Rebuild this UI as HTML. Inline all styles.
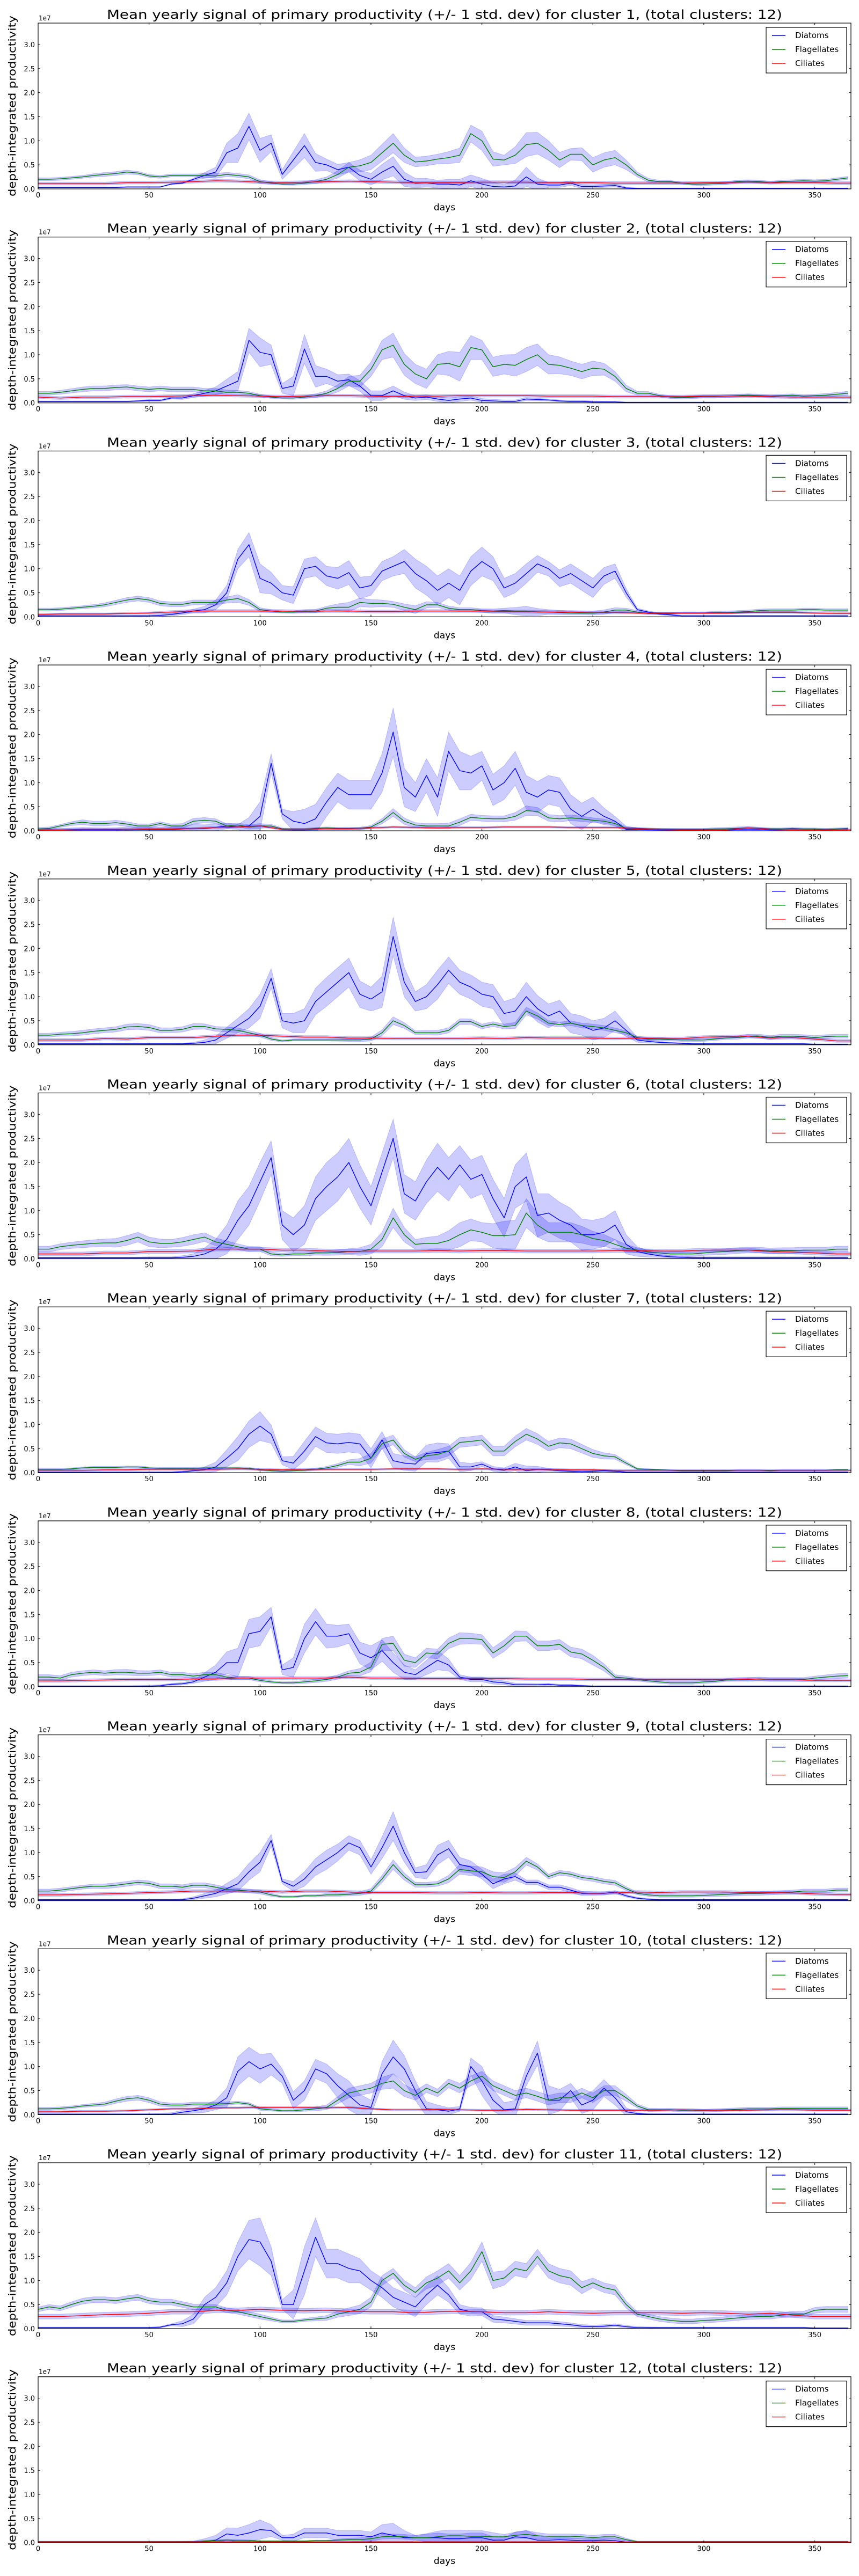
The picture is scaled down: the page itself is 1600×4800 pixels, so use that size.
<!DOCTYPE html>
<html><head><meta charset="utf-8"><title>Mean yearly signal of primary productivity</title>
<style>
html,body{margin:0;padding:0;background:#fff;}
svg{display:block;}
text{font-family:"DejaVu Sans","Liberation Sans",sans-serif;fill:#000;}
</style></head>
<body>
<svg id="fig" xmlns="http://www.w3.org/2000/svg" width="1600" height="4800" viewBox="0 0 1600 4800"></svg>
<script>
// Values in units of 1e7. Means sampled every 5 days (day 0..365), ciliate means and all std every 10 days (day 0..370).
const xTicks=[0,50,100,150,200,250,300,350];
const yTicks=[0,0.5,1.0,1.5,2.0,2.5,3.0];
const yTickLabels=["0.0","0.5","1.0","1.5","2.0","2.5","3.0"];
const seriesNames=["Diatoms","Flagellates","Ciliates"];

const diatoms1=[.03,.03,.03,.03,.03,.03,.03,.03,.04,.04, .04,.04,.1,.12,.2,.28,.35,.75,.85,1.3, .8,.95,.3,.6,.9,.55,.5,.4,.45,.28, .2,.35,.47,.2,.12,.13,.1,.1,.08,.17, .1,.05,.04,.06,.25,.1,.08,.08,.12,.05, .05,.06,.07,.02,.01,.01,.01,.01,.01,.01, .01,.01,.01,.01,.01,.01,.01,.01,.01,.01, .01,.01,.01,.01];
const flagellates1=[.2,.2,.21,.23,.25,.28,.3,.32,.35,.33, .27,.25,.28,.28,.28,.28,.27,.3,.28,.25, .15,.12,.1,.1,.12,.15,.2,.3,.45,.48, .55,.75,.95,.7,.56,.58,.62,.65,.7,1.15, 1.0,.62,.6,.7,.92,.95,.8,.6,.72,.72, .5,.6,.65,.5,.3,.18,.15,.15,.12,.1, .1,.11,.12,.15,.16,.15,.13,.15,.16,.17, .16,.17,.2,.23];
const ciliates1=[.11,.11,.11,.11,.13,.13,.14,.15,.17,.16,.14,.13,.14,.15,.16,.15,.14,.13,.13,.13,.14,.14,.14,.13,.13,.13,.12,.12,.12,.12,.13,.13,.14,.13,.13,.13,.12,.12];
const diatomsStd1=[.01,.01,.01,.01,.01,.01,.01,.02,.1,.3, .25,.1,.25,.12,.1,.12,.2,.1,.08,.12, .12,.05,.2,.05,.05,.03,.03,.01,.01,.01, .01,.01,.01,.01,.01,.01,.01,.01];
const flagellatesStd1=[.03,.03,.03,.04,.04,.03,.03,.03,.05,.04, .04,.02,.03,.05,.1,.15,.2,.1,.1,.15, .2,.1,.25,.2,.12,.15,.15,.05,.03,.02, .03,.03,.03,.03,.03,.03,.03,.03];
const ciliatesStd1=[.03,.03,.03,.03,.03,.03,.03,.03,.03,.03,.03,.03,.03,.03,.03,.03,.03,.03,.03,.03,.03,.03,.03,.03,.03,.03,.03,.03,.03,.03,.03,.03,.03,.03,.03,.03,.03,.03];

const diatoms2=[.03,.03,.03,.03,.03,.03,.03,.03,.03,.04, .05,.05,.1,.1,.15,.2,.25,.35,.45,1.3, 1.05,1.0,.3,.35,1.12,.55,.55,.45,.48,.35, .15,.15,.25,.15,.1,.12,.08,.05,.08,.1, .05,.04,.03,.03,.08,.07,.06,.04,.03,.03, .02,.02,.02,.01,.01,.01,.01,.01,.01,.01, .01,.01,.01,.01,.01,.01,.01,.01,.01,.01, .01,.01,.01,.01];
const flagellates2=[.2,.2,.22,.25,.28,.3,.3,.32,.33,.3, .28,.3,.28,.28,.28,.25,.25,.22,.22,.2, .15,.12,.1,.1,.12,.15,.2,.3,.45,.45, .7,1.1,1.2,.8,.6,.5,.8,.82,.75,1.15, 1.1,.75,.8,.78,.9,1.0,.8,.78,.72,.65, .72,.7,.55,.3,.2,.2,.15,.12,.11,.12, .13,.13,.14,.15,.16,.15,.14,.15,.16,.14, .15,.16,.18,.2];
const ciliates2=[.12,.1,.12,.12,.13,.13,.14,.15,.16,.15,.14,.13,.14,.15,.15,.14,.13,.14,.14,.15,.15,.15,.15,.14,.14,.14,.13,.13,.13,.13,.14,.14,.14,.13,.12,.12,.12,.12];
const diatomsStd2=[.01,.01,.01,.01,.01,.02,.02,.04,.08,.2, .3,.1,.3,.15,.12,.1,.1,.05,.05,.05, .04,.03,.03,.02,.02,.02,.01,.01,.01,.01, .01,.01,.01,.01,.01,.01,.01,.01];
const flagellatesStd2=[.04,.04,.05,.05,.05,.05,.05,.05,.05,.04, .03,.02,.03,.05,.1,.15,.25,.2,.2,.3, .2,.2,.25,.2,.15,.15,.1,.04,.03,.03, .03,.03,.03,.03,.03,.03,.04,.04];
const ciliatesStd2=[.03,.03,.03,.03,.03,.03,.03,.03,.03,.03,.03,.03,.03,.03,.03,.03,.03,.03,.03,.03,.03,.03,.03,.03,.03,.03,.03,.03,.03,.03,.03,.03,.03,.03,.03,.03,.03,.03];

const diatoms3=[.02,.02,.02,.02,.02,.02,.02,.02,.02,.02, .02,.03,.05,.08,.12,.15,.25,.5,1.2,1.5, .8,.7,.5,.45,1.0,1.05,.85,.8,.92,.6, .65,.95,1.05,1.15,.9,.75,.55,.7,.55,.95, 1.15,1.0,.6,.7,.9,1.1,1.0,.8,.9,.75, .6,.85,.95,.5,.15,.1,.06,.04,.02,.02, .02,.02,.02,.02,.02,.02,.02,.02,.02,.02, .02,.02,.02,.02];
const flagellates3=[.15,.15,.16,.18,.2,.22,.25,.3,.35,.38, .35,.28,.26,.26,.3,.3,.3,.35,.38,.3, .15,.12,.1,.1,.12,.12,.18,.2,.2,.3, .28,.28,.26,.2,.15,.25,.25,.18,.15,.15, .13,.12,.13,.12,.12,.1,.1,.09,.08,.08, .08,.1,.14,.14,.1,.07,.07,.07,.08,.08, .08,.09,.09,.1,.11,.13,.14,.14,.14,.15, .15,.14,.14,.14];
const ciliates3=[.05,.06,.06,.06,.07,.08,.1,.12,.12,.12,.12,.12,.11,.12,.12,.11,.11,.12,.12,.12,.12,.11,.11,.1,.1,.09,.09,.08,.08,.08,.08,.08,.09,.09,.09,.08,.07,.07];
const diatomsStd3=[.01,.01,.01,.01,.01,.02,.03,.04,.1,.2, .3,.15,.2,.2,.25,.2,.2,.3,.3,.3, .3,.2,.2,.15,.2,.2,.15,.03,.02,.01, .01,.01,.01,.01,.01,.01,.01,.01];
const flagellatesStd3=[.03,.03,.03,.04,.05,.05,.05,.05,.05,.08, .04,.02,.03,.04,.1,.08,.06,.08,.05,.04, .04,.05,.1,.05,.04,.04,.05,.03,.02,.02, .02,.03,.03,.03,.03,.03,.03,.03];
const ciliatesStd3=[.02,.02,.02,.02,.02,.02,.03,.03,.03,.03,.03,.03,.03,.03,.03,.03,.03,.03,.03,.03,.03,.03,.03,.03,.03,.03,.03,.02,.02,.02,.02,.02,.02,.02,.02,.02,.02,.02];

const diatoms4=[.02,.02,.02,.02,.02,.02,.02,.02,.03,.03, .03,.03,.03,.04,.05,.05,.07,.1,.08,.1, .3,1.4,.35,.2,.15,.25,.6,.9,.75,.75, .75,1.2,2.05,.9,.7,1.15,.7,1.65,1.25,1.2, 1.35,.85,1.0,1.3,.8,.7,.85,.8,.45,.3, .45,.3,.2,.03,.03,.02,.02,.02,.02,.02, .02,.02,.02,.02,.02,.02,.02,.02,.02,.02, .02,.02,.02,.02];
const flagellates4=[.04,.05,.1,.15,.18,.15,.15,.17,.14,.1, .1,.15,.1,.1,.2,.22,.2,.1,.12,.08, .1,.1,.04,.03,.03,.05,.06,.05,.05,.05, .08,.2,.38,.2,.12,.1,.1,.1,.18,.28, .26,.25,.25,.3,.42,.4,.27,.25,.27,.25, .22,.2,.15,.05,.05,.04,.03,.03,.03,.03, .03,.04,.04,.05,.06,.05,.04,.04,.05,.04, .04,.03,.04,.05];
const ciliates4=[.02,.02,.03,.03,.03,.04,.04,.05,.07,.08,.1,.03,.03,.04,.04,.06,.08,.07,.06,.07,.07,.08,.08,.08,.07,.07,.07,.04,.03,.02,.02,.02,.06,.03,.02,.02,.02,.02];
const diatomsStd4=[.02,.03,.05,.04,.05,.05,.05,.08,.07,.05, .3,.1,.3,.3,.3,.3,.5,.3,.4,.4, .3,.35,.35,.3,.3,.25,.1,.03,.02,.02, .02,.03,.03,.02,.02,.02,.02,.02];
const flagellatesStd4=[.03,.03,.05,.05,.05,.04,.04,.06,.05,.04, .05,.02,.02,.02,.02,.03,.08,.05,.05,.07, .06,.06,.1,.07,.06,.05,.04,.02,.02,.02, .02,.03,.03,.02,.02,.02,.02,.02];
const ciliatesStd4=[.02,.02,.02,.02,.02,.02,.02,.02,.02,.02,.02,.02,.02,.02,.02,.02,.02,.02,.02,.02,.02,.02,.02,.02,.02,.02,.02,.02,.02,.02,.02,.02,.02,.02,.02,.02,.02,.02];

const diatoms5=[.02,.02,.02,.02,.02,.02,.02,.02,.02,.02, .02,.02,.02,.02,.03,.05,.1,.25,.4,.55, .8,1.38,.5,.45,.5,.9,1.1,1.3,1.5,1.05, .95,1.1,2.25,1.3,.9,1.0,1.25,1.55,1.3,1.2, 1.05,1.0,.65,.7,1.0,.75,.6,.7,.45,.4, .3,.35,.5,.3,.1,.07,.05,.04,.03,.02, .02,.02,.02,.02,.02,.02,.02,.02,.02,.02, .01,.01,.01,.01];
const flagellates5=[.2,.2,.22,.23,.25,.28,.3,.32,.37,.38, .36,.3,.3,.32,.38,.38,.33,.32,.3,.25, .2,.12,.08,.1,.1,.1,.1,.1,.1,.1, .12,.25,.5,.4,.25,.25,.25,.3,.48,.48, .38,.43,.38,.4,.7,.6,.45,.42,.45,.4, .38,.35,.3,.25,.15,.12,.12,.11,.1,.1, .1,.12,.14,.15,.18,.18,.15,.18,.18,.17, .15,.17,.18,.18];
const ciliates5=[.1,.1,.1,.13,.12,.15,.15,.15,.18,.2,.2,.18,.16,.16,.14,.14,.13,.13,.13,.13,.14,.13,.15,.14,.14,.14,.13,.14,.13,.13,.16,.17,.18,.14,.15,.12,.08,.08];
const diatomsStd5=[.01,.01,.01,.01,.01,.01,.01,.02,.08,.15, .25,.15,.25,.3,.3,.25,.4,.2,.3,.25, .25,.25,.3,.25,.2,.2,.2,.05,.02,.01, .01,.01,.01,.01,.01,.01,.01,.01];
const flagellatesStd5=[.04,.04,.05,.05,.06,.06,.05,.06,.05,.05, .04,.02,.02,.02,.03,.04,.08,.04,.05,.06, .05,.05,.08,.05,.05,.05,.05,.03,.03,.03, .03,.03,.04,.04,.04,.04,.04,.04];
const ciliatesStd5=[.03,.03,.03,.03,.03,.03,.03,.03,.03,.03,.03,.03,.03,.03,.03,.03,.03,.03,.03,.03,.03,.03,.03,.03,.03,.03,.03,.03,.03,.03,.03,.03,.03,.03,.03,.03,.03,.03];

const diatoms6=[.02,.02,.02,.02,.02,.02,.02,.02,.02,.02, .02,.02,.02,.03,.05,.1,.2,.4,.8,1.1, 1.6,2.1,.7,.5,.7,1.25,1.5,1.7,2.0,1.5, 1.1,1.8,2.5,1.35,1.2,1.6,1.9,1.65,1.95,1.65, 1.75,1.25,.85,1.5,1.7,.9,.95,.8,.7,.5, .5,.55,.7,.3,.15,.1,.06,.04,.03,.02, .02,.02,.02,.02,.02,.02,.02,.02,.02,.02, .02,.02,.02,.02];
const flagellates6=[.2,.2,.25,.28,.3,.32,.33,.33,.38,.45, .35,.32,.32,.35,.4,.45,.35,.3,.25,.2, .2,.1,.08,.1,.1,.12,.12,.13,.15,.15, .2,.4,.85,.5,.3,.32,.32,.38,.5,.6, .55,.48,.48,.5,.95,.7,.55,.55,.55,.5, .42,.38,.3,.22,.18,.14,.12,.1,.1,.1, .12,.14,.15,.17,.18,.18,.16,.17,.17,.18, .18,.18,.2,.2];
const ciliates6=[.1,.1,.1,.12,.12,.15,.15,.16,.2,.2,.2,.18,.18,.16,.15,.16,.16,.16,.17,.16,.17,.17,.16,.16,.16,.16,.17,.17,.16,.16,.18,.18,.18,.15,.14,.12,.1,.1];
const diatomsStd6=[.01,.01,.01,.01,.01,.02,.02,.05,.2,.4, .4,.3,.4,.5,.5,.4,.4,.4,.5,.4, .4,.4,.5,.4,.35,.3,.3,.1,.03,.02, .02,.02,.02,.02,.02,.02,.02,.02];
const flagellatesStd6=[.06,.06,.07,.08,.1,.1,.08,.1,.08,.06, .05,.03,.04,.05,.06,.1,.2,.1,.15,.25, .2,.3,.3,.2,.2,.15,.1,.05,.05,.05, .05,.06,.06,.06,.06,.06,.06,.06];
const ciliatesStd6=[.04,.04,.04,.04,.04,.04,.04,.04,.04,.04,.04,.04,.04,.04,.04,.04,.04,.04,.04,.04,.04,.04,.04,.04,.04,.04,.04,.04,.04,.04,.04,.04,.04,.04,.04,.04,.04,.04];

const diatoms7=[.01,.01,.01,.01,.01,.01,.01,.01,.01,.01, .01,.01,.01,.02,.04,.06,.12,.3,.5,.8, .97,.8,.25,.2,.45,.75,.62,.6,.63,.6, .3,.68,.25,.2,.18,.4,.42,.45,.12,.12, .18,.08,.05,.12,.04,.07,.06,.04,.03,.02, .03,.04,.03,.01,.01,.01,.01,.01,.01,.01, .01,.01,.01,.01,.01,.01,.01,.01,.01,.01, .01,.01,.01,.01];
const flagellates7=[.07,.07,.07,.08,.1,.11,.11,.11,.12,.12, .1,.09,.09,.09,.09,.1,.1,.1,.1,.09, .06,.04,.03,.04,.05,.07,.1,.15,.22,.22, .3,.6,.68,.4,.28,.35,.38,.45,.63,.65, .68,.45,.45,.65,.8,.7,.55,.62,.6,.5, .4,.35,.33,.2,.08,.07,.06,.05,.04,.04, .04,.04,.04,.05,.05,.05,.04,.05,.05,.05, .05,.05,.06,.06];
const ciliates7=[.05,.05,.05,.06,.06,.07,.07,.07,.07,.08,.07,.06,.07,.07,.07,.07,.08,.08,.08,.07,.08,.07,.07,.07,.06,.06,.05,.05,.05,.05,.05,.05,.05,.05,.05,.05,.05,.05];
const diatomsStd7=[.01,.01,.01,.01,.01,.01,.01,.02,.1,.25, .3,.08,.2,.2,.2,.2,.15,.15,.2,.1, .05,.05,.1,.03,.02,.02,.02,.01,.01,.01, .01,.01,.01,.01,.01,.01,.01,.01];
const flagellatesStd7=[.02,.02,.02,.02,.02,.02,.02,.02,.02,.02, .02,.01,.02,.03,.05,.1,.1,.05,.1,.1, .1,.1,.12,.1,.1,.08,.05,.02,.01,.01, .01,.01,.01,.01,.01,.01,.01,.01];
const ciliatesStd7=[.02,.02,.02,.02,.02,.02,.02,.02,.02,.02,.02,.02,.02,.02,.02,.02,.02,.02,.02,.02,.02,.02,.02,.02,.02,.02,.02,.02,.02,.02,.02,.02,.02,.02,.02,.02,.02,.02];

const diatoms8=[.01,.01,.01,.01,.01,.01,.01,.01,.01,.01, .01,.02,.05,.06,.1,.2,.3,.5,.5,1.1, 1.15,1.45,.35,.4,1.0,1.35,1.05,1.05,1.1,.7, .6,.75,.5,.3,.25,.4,.55,.45,.2,.15, .15,.1,.08,.04,.04,.04,.05,.03,.03,.02, .01,.01,.01,.01,.01,.01,.01,.01,.01,.01, .01,.01,.01,.01,.01,.01,.01,.01,.01,.01, .01,.01,.01,.01];
const flagellates8=[.2,.2,.18,.25,.28,.3,.28,.3,.3,.28, .28,.3,.25,.25,.22,.25,.25,.2,.18,.18, .13,.1,.08,.08,.1,.12,.15,.2,.28,.3, .41,.88,.9,.55,.5,.7,.68,.9,1.0,1.0, .98,.7,.85,1.05,1.05,.85,.85,.88,.72,.68, .55,.4,.2,.18,.15,.12,.1,.08,.08,.08, .1,.11,.14,.15,.15,.16,.15,.15,.15,.15, .18,.2,.22,.23];
const ciliates8=[.12,.12,.13,.14,.15,.15,.15,.16,.16,.18,.18,.18,.18,.18,.2,.18,.18,.17,.17,.17,.17,.17,.16,.16,.16,.15,.15,.15,.15,.15,.15,.15,.16,.15,.15,.13,.13,.13];
const diatomsStd8=[.01,.01,.01,.01,.01,.02,.02,.03,.15,.3, .3,.1,.3,.25,.2,.25,.2,.1,.2,.05, .05,.04,.03,.02,.02,.01,.01,.01,.01,.01, .01,.01,.01,.01,.01,.01,.01,.01];
const flagellatesStd8=[.05,.05,.05,.05,.06,.05,.05,.05,.05,.04, .03,.02,.03,.04,.05,.1,.15,.1,.1,.12, .1,.12,.1,.1,.1,.1,.05,.03,.03,.03, .03,.03,.04,.04,.04,.04,.05,.05];
const ciliatesStd8=[.03,.03,.03,.03,.03,.03,.03,.03,.03,.03,.03,.03,.03,.03,.03,.03,.03,.03,.03,.03,.03,.03,.03,.03,.03,.03,.03,.03,.03,.03,.03,.03,.03,.03,.03,.03,.03,.03];

const diatoms9=[.02,.02,.02,.02,.02,.02,.02,.02,.02,.02, .02,.02,.02,.02,.05,.1,.15,.25,.35,.6, .8,1.25,.4,.3,.45,.7,.85,1.0,1.2,1.1, .7,1.1,1.55,1.0,.58,.6,.95,1.08,.75,.7, .55,.35,.45,.5,.38,.38,.28,.28,.22,.15, .15,.15,.18,.1,.05,.03,.02,.02,.02,.02, .02,.02,.02,.02,.02,.02,.02,.02,.02,.02, .02,.02,.02,.02];
const flagellates9=[.2,.2,.22,.25,.28,.3,.3,.32,.35,.38, .36,.3,.3,.28,.32,.32,.28,.23,.22,.2, .18,.12,.08,.08,.1,.1,.12,.12,.13,.15, .2,.45,.75,.5,.33,.33,.35,.45,.65,.62, .6,.5,.48,.6,.82,.7,.5,.58,.55,.48, .45,.4,.37,.25,.15,.12,.1,.1,.1,.1, .11,.12,.13,.14,.15,.15,.16,.17,.18,.2, .2,.2,.22,.22];
const ciliates9=[.12,.12,.13,.14,.15,.17,.18,.2,.2,.2,.2,.18,.2,.2,.18,.17,.17,.17,.16,.16,.17,.16,.16,.17,.17,.15,.16,.18,.17,.18,.18,.18,.17,.17,.16,.14,.13,.13];
const diatomsStd9=[.01,.01,.01,.01,.01,.01,.01,.03,.07,.15, .2,.05,.15,.2,.15,.15,.3,.1,.2,.15, .1,.1,.05,.05,.05,.04,.03,.02,.01,.01, .01,.01,.01,.01,.01,.01,.01,.01];
const flagellatesStd9=[.04,.04,.04,.05,.05,.05,.05,.05,.05,.04, .04,.02,.02,.03,.03,.05,.1,.05,.05,.1, .1,.1,.08,.05,.05,.05,.05,.03,.03,.03, .03,.04,.04,.04,.04,.04,.04,.04];
const ciliatesStd9=[.03,.03,.03,.03,.03,.03,.03,.03,.03,.03,.03,.03,.03,.03,.03,.03,.03,.03,.03,.03,.03,.03,.03,.03,.03,.03,.03,.03,.03,.03,.03,.03,.03,.03,.03,.03,.03,.03];

const diatoms10=[.01,.01,.01,.01,.01,.01,.01,.01,.01,.01, .01,.01,.01,.05,.08,.12,.2,.35,.9,1.1, .95,1.05,.8,.3,.5,.95,.85,.6,.4,.2, .15,.85,1.2,.95,.5,.12,.1,.07,.12,1.0, .7,.3,.1,.12,.8,1.28,.3,.3,.5,.2, .3,.55,.35,.06,.02,.01,.01,.01,.01,.01, .01,.01,.01,.01,.01,.01,.01,.01,.01,.01, .01,.01,.01,.01];
const flagellates10=[.12,.12,.13,.15,.18,.2,.22,.28,.33,.35, .3,.22,.2,.2,.22,.22,.22,.23,.25,.22, .12,.1,.08,.08,.1,.12,.15,.3,.45,.5, .55,.65,.7,.5,.4,.55,.45,.65,.55,.7, .8,.6,.5,.4,.45,.38,.3,.35,.35,.45, .35,.5,.5,.35,.18,.1,.1,.1,.09,.09, .08,.09,.1,.11,.12,.12,.12,.13,.13,.13, .13,.13,.13,.13];
const ciliates10=[.06,.06,.07,.07,.08,.1,.12,.12,.14,.14,.15,.15,.15,.14,.15,.12,.1,.1,.11,.1,.09,.09,.11,.1,.09,.09,.09,.09,.09,.1,.09,.09,.09,.1,.1,.09,.09,.09];
const diatomsStd10=[.01,.01,.01,.01,.01,.01,.03,.05,.1,.3, .3,.15,.2,.2,.3,.15,.35,.2,.1,.05, .3,.15,.2,.3,.15,.2,.15,.02,.01,.01, .01,.01,.01,.01,.01,.01,.01,.01];
const flagellatesStd10=[.03,.03,.03,.04,.05,.05,.04,.04,.04,.03, .03,.02,.03,.05,.1,.1,.15,.1,.08,.1, .1,.1,.1,.1,.1,.1,.1,.04,.03,.03, .03,.03,.03,.03,.03,.03,.03,.03];
const ciliatesStd10=[.02,.02,.02,.02,.02,.02,.02,.02,.02,.02,.02,.02,.02,.02,.02,.02,.02,.02,.02,.02,.02,.02,.02,.02,.02,.02,.02,.02,.02,.02,.02,.02,.02,.02,.02,.02,.02,.02];

const diatoms11=[.02,.02,.02,.02,.02,.02,.02,.02,.02,.02, .02,.03,.08,.1,.2,.5,.65,.95,1.5,1.85, 1.8,1.4,.5,.5,1.2,1.9,1.35,1.35,1.25,1.2, 1.0,.85,.65,.55,.45,.7,.9,.7,.4,.35, .35,.2,.18,.15,.12,.12,.12,.1,.08,.05, .04,.05,.07,.04,.02,.02,.02,.02,.02,.02, .02,.02,.02,.02,.02,.02,.02,.02,.02,.02, .01,.01,.01,.01];
const flagellates11=[.4,.45,.42,.5,.57,.6,.6,.58,.62,.65, .58,.55,.55,.5,.45,.45,.45,.38,.35,.3, .25,.2,.15,.15,.18,.2,.22,.3,.35,.4, .55,1.0,1.15,.9,.75,.95,1.05,1.2,.95,1.2, 1.6,1.0,1.05,1.25,1.2,1.5,1.2,1.1,1.05,.85, .95,.85,.8,.5,.3,.25,.2,.17,.15,.15, .17,.18,.2,.22,.24,.25,.25,.28,.3,.3, .38,.4,.4,.4];
const ciliates11=[.25,.25,.27,.29,.3,.32,.35,.35,.38,.38,.4,.38,.37,.38,.36,.35,.35,.33,.35,.36,.35,.33,.33,.35,.33,.32,.33,.33,.33,.32,.33,.32,.3,.32,.28,.25,.25,.25];
const diatomsStd11=[.01,.01,.01,.01,.01,.01,.02,.1,.2,.3, .5,.1,.5,.3,.3,.2,.2,.2,.2,.1, .08,.06,.05,.05,.04,.03,.03,.02,.01,.01, .01,.01,.01,.01,.01,.01,.01,.01];
const flagellatesStd11=[.05,.05,.06,.06,.06,.06,.06,.06,.05,.05, .05,.03,.03,.05,.08,.1,.1,.1,.15,.15, .2,.15,.15,.15,.15,.1,.1,.05,.05,.05, .05,.05,.05,.05,.06,.06,.06,.06];
const ciliatesStd11=[.05,.05,.05,.05,.05,.05,.05,.05,.05,.05,.05,.05,.05,.05,.05,.05,.05,.05,.05,.05,.05,.05,.05,.05,.05,.05,.05,.05,.05,.05,.05,.05,.05,.05,.05,.05,.05,.05];

const diatoms12=[.01,.01,.01,.01,.01,.01,.01,.01,.01,.01, .01,.01,.01,.01,.01,.02,.05,.18,.15,.2, .27,.25,.1,.1,.2,.2,.2,.15,.15,.15, .12,.2,.15,.1,.1,.1,.1,.08,.08,.1, .1,.05,.05,.12,.1,.05,.05,.06,.05,.04, .04,.05,.04,.01,.01,.01,.01,.01,.01,.01, .01,.01,.01,.01,.01,.01,.01,.01,.01,.01, .01,.01,.01,.01];
const flagellates12=[.02,.02,.02,.02,.02,.02,.02,.02,.02,.02, .02,.02,.02,.02,.02,.03,.04,.05,.04,.04, .03,.03,.03,.03,.03,.04,.04,.05,.06,.06, .08,.12,.13,.12,.1,.1,.12,.14,.14,.13, .13,.12,.12,.15,.17,.14,.13,.13,.13,.12, .1,.12,.12,.06,.02,.02,.02,.02,.02,.02, .02,.02,.02,.02,.02,.02,.02,.02,.02,.02, .02,.02,.02,.02];
const ciliates12=[.01,.01,.01,.01,.01,.01,.01,.01,.015,.015,.015,.015,.015,.015,.015,.015,.015,.015,.015,.015,.015,.015,.015,.015,.015,.015,.01,.01,.01,.01,.01,.01,.01,.01,.01,.01,.01,.01];
const diatomsStd12=[.01,.01,.01,.01,.01,.01,.01,.02,.1,.15, .2,.05,.1,.1,.1,.1,.25,.05,.1,.1, .1,.05,.15,.05,.05,.05,.05,.01,.01,.01, .01,.01,.01,.01,.01,.01,.01,.01];
const flagellatesStd12=[.01,.01,.01,.01,.01,.01,.01,.01,.02,.02, .01,.01,.01,.01,.03,.05,.05,.05,.12,.12, .12,.05,.08,.05,.05,.05,.05,.01,.01,.01, .01,.01,.01,.01,.01,.01,.01,.01];
const ciliatesStd12=[.01,.01,.01,.01,.01,.01,.01,.01,.01,.01,.01,.01,.01,.01,.01,.01,.01,.01,.01,.01,.01,.01,.01,.01,.01,.01,.01,.01,.01,.01,.01,.01,.01,.01,.01,.01,.01,.01];

const panelsD=[diatoms1,diatoms2,diatoms3,diatoms4,diatoms5,diatoms6,diatoms7,diatoms8,diatoms9,diatoms10,diatoms11,diatoms12];
const panelsF=[flagellates1,flagellates2,flagellates3,flagellates4,flagellates5,flagellates6,flagellates7,flagellates8,flagellates9,flagellates10,flagellates11,flagellates12];
const panelsC=[ciliates1,ciliates2,ciliates3,ciliates4,ciliates5,ciliates6,ciliates7,ciliates8,ciliates9,ciliates10,ciliates11,ciliates12];
const panelsDs=[diatomsStd1,diatomsStd2,diatomsStd3,diatomsStd4,diatomsStd5,diatomsStd6,diatomsStd7,diatomsStd8,diatomsStd9,diatomsStd10,diatomsStd11,diatomsStd12];
const panelsFs=[flagellatesStd1,flagellatesStd2,flagellatesStd3,flagellatesStd4,flagellatesStd5,flagellatesStd6,flagellatesStd7,flagellatesStd8,flagellatesStd9,flagellatesStd10,flagellatesStd11,flagellatesStd12];
const panelsCs=[ciliatesStd1,ciliatesStd2,ciliatesStd3,ciliatesStd4,ciliatesStd5,ciliatesStd6,ciliatesStd7,ciliatesStd8,ciliatesStd9,ciliatesStd10,ciliatesStd11,ciliatesStd12];

const NS="http://www.w3.org/2000/svg";
const svg=document.getElementById('fig');
const AX_L=71, AX_R=1585, AX_H=309, PITCH=398.7, TOP0=43, XMAX=366.3, YMAX=3.445;
function mk(tag,attrs,parent){const e=document.createElementNS(NS,tag);for(const k in attrs)e.setAttribute(k,attrs[k]);(parent||svg).appendChild(e);return e;}
function interp(arr,step,d){const t=d/step;const i=Math.floor(t);if(i>=arr.length-1)return arr[arr.length-1];const f=t-i;return arr[i]*(1-f)+arr[i+1]*f;}
const colors=["#0000ff","#008000","#ff0000"];

for(let p=0;p<12;p++){
  const top=TOP0+p*PITCH, bot=top+AX_H;
  const xs=d=>AX_L+d/XMAX*(AX_R-AX_L);
  const ys=v=>bot-v/YMAX*AX_H;
  const g=mk('g',{});
  
  
  const cp=mk('clipPath',{id:'clip'+p},g);
  mk('rect',{x:AX_L,y:top,width:AX_R-AX_L,height:AX_H},cp);
  const title=mk('text',{x:828,y:top-8,'text-anchor':'middle','font-size':23,textLength:1258,lengthAdjust:'spacingAndGlyphs'},g);
  title.textContent='Mean yearly signal of primary productivity (+/- 1 std. dev) for cluster '+(p+1)+', (total clusters: 12)';
  
  
  const plot=mk('g',{'clip-path':'url(#clip'+p+')'},g);
  
  
  const series=[[panelsD[p],panelsDs[p],5],[panelsF[p],panelsFs[p],5],[panelsC[p],panelsCs[p],10]];
  series.forEach((s,si)=>{
    const [mean,sd,step]=s;
    const up=[],lo=[],ln=[];
    for(let i=0;i<mean.length;i++){
      const d=i*step, m=mean[i], e=interp(sd,10,d);
      up.push(xs(d).toFixed(1)+','+ys(m+e).toFixed(1));
      lo.push(xs(d).toFixed(1)+','+ys(m-e).toFixed(1));
      ln.push(xs(d).toFixed(1)+','+ys(m).toFixed(1));
    }
    const band=mk('polygon',{points:up.concat(lo.reverse()).join(' '),fill:'#0000ff','fill-opacity':0.2,stroke:'#0000ff','stroke-opacity':0.2,'stroke-width':1},plot);
    
    
    const line=mk('polyline',{points:ln.join(' '),fill:'none',stroke:colors[si],'stroke-width':1.4,'stroke-linejoin':'round'},plot);
    
    
  });
  const frame=mk('rect',{x:AX_L,y:top,width:AX_R-AX_L,height:AX_H,fill:'none',stroke:'#000','stroke-width':1.2},g);
  
  
  xTicks.forEach(t=>{
    const x=xs(t);
    mk('line',{x1:x,y1:bot,x2:x,y2:bot-4,stroke:'#000','stroke-width':1},g);
    mk('line',{x1:x,y1:top,x2:x,y2:top+4,stroke:'#000','stroke-width':1},g);
    const lb=mk('text',{x:x,y:bot+16,'text-anchor':'middle','font-size':13},g);
    lb.textContent=String(t);
    
    
  });
  yTicks.forEach((t,ti)=>{
    const y=ys(t);
    mk('line',{x1:AX_L,y1:y,x2:AX_L+4,y2:y,stroke:'#000','stroke-width':1},g);
    mk('line',{x1:AX_R,y1:y,x2:AX_R-4,y2:y,stroke:'#000','stroke-width':1},g);
    const lb=mk('text',{x:65,y:y+5,'text-anchor':'end','font-size':13},g);
    lb.textContent=yTickLabels[ti];
    
    
  });
  const ex=mk('text',{x:72,y:top-5,'font-size':12},g);
  ex.textContent='1e7';
  
  
  const yl=mk('text',{x:0,y:0,'text-anchor':'middle','font-size':19,textLength:337,lengthAdjust:'spacingAndGlyphs',transform:'translate(29,'+(top+AX_H/2)+') rotate(-90)'},g);
  yl.textContent='depth-integrated productivity';
  
  
  const xl=mk('text',{x:828,y:bot+40,'text-anchor':'middle','font-size':17},g);
  xl.textContent='days';
  
  
  const lg=mk('g',{},g);
  
  
  mk('rect',{x:1427,y:top+8,width:150,height:85,fill:'#fff',stroke:'#000','stroke-width':1.2},lg);
  seriesNames.forEach((n,si)=>{
    const yy=top+23+si*26;
    mk('line',{x1:1438,y1:yy,x2:1463,y2:yy,stroke:colors[si],'stroke-width':1.4},lg);
    const lt=mk('text',{x:1481,y:yy+5,'font-size':15},lg);
    lt.textContent=n;
    
    
  });
}
</script>
</body></html>
